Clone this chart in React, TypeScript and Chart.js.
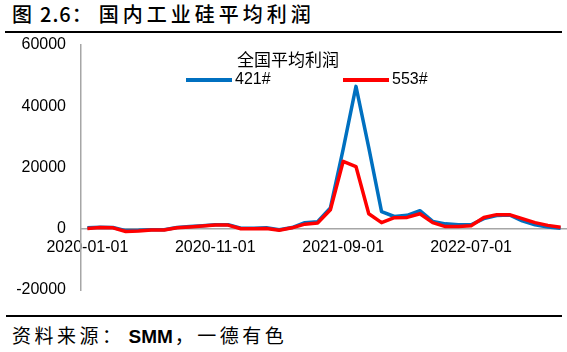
import { useEffect, useRef } from "react";
import { Chart, registerables } from "chart.js";

Chart.register(...registerables);

const categories: string[] = [
  "2020-01-01", "2020-02-01", "2020-03-01", "2020-04-01", "2020-05-01", "2020-06-01",
  "2020-07-01", "2020-08-01", "2020-09-01", "2020-10-01", "2020-11-01", "2020-12-01",
  "2021-01-01", "2021-02-01", "2021-03-01", "2021-04-01", "2021-05-01", "2021-06-01",
  "2021-07-01", "2021-08-01", "2021-09-01", "2021-10-01", "2021-11-01", "2021-12-01",
  "2022-01-01", "2022-02-01", "2022-03-01", "2022-04-01", "2022-05-01", "2022-06-01",
  "2022-07-01", "2022-08-01", "2022-09-01", "2022-10-01", "2022-11-01", "2022-12-01",
  "2023-01-01", "2023-02-01",
];

const shownXLabels: string[] = ["2020-01-01", "2020-11-01", "2021-09-01", "2022-07-01"];

const series421: number[] = [
  300, 500, 400, -600, -500, -300, -300, 400, 700, 1000, 1300, 1300,
  200, 200, 300, -300, 400, 2000, 2300, 6800, 26000, 46500, 26500, 5600,
  4000, 4400, 5900, 2400, 1600, 1300, 1300, 3300, 4300, 4500, 2600, 1300,
  600, 200,
];

const series553: number[] = [
  100, 400, 300, -900, -700, -400, -400, 300, 600, 900, 1200, 1200,
  0, 0, 100, -500, 300, 1500, 1900, 6200, 22000, 20300, 4900, 2000,
  3600, 3700, 4900, 2000, 700, 700, 1000, 3700, 4600, 4600, 3300, 2000,
  1100, 500,
];

const seriesNames: string[] = ["421#", "553#"];
const legendTitle = "全国平均利润";
const yMin = -20000;
const yMax = 60000;
const yStep = 20000;

const BLUE = "#0070C0";
const RED = "#FF0000";
const AXIS = "#A6A6A6";

const legendPlugin = {
  id: "customLegend",
  afterDraw(chart: any) {
    const ctx = chart.ctx as CanvasRenderingContext2D;
    ctx.save();
    ctx.fillStyle = "#000";
    ctx.textBaseline = "middle";
    ctx.font = "17px 'Noto Sans CJK SC'";
    ctx.textAlign = "left";
    ctx.fillText(legendTitle, 237, 24);
    const items = [
      { x: 186, color: BLUE, label: seriesNames[0] },
      { x: 343, color: RED, label: seriesNames[1] },
    ];
    ctx.font = "16px 'Liberation Sans'";
    for (const it of items) {
      ctx.strokeStyle = it.color;
      ctx.lineWidth = 4;
      ctx.beginPath();
      ctx.moveTo(it.x, 44);
      ctx.lineTo(it.x + 46, 44);
      ctx.stroke();
      ctx.fillText(it.label, it.x + 49, 44);
    }
    ctx.restore();
  },
};

function ChartView() {
  const ref = useRef<HTMLCanvasElement | null>(null);
  useEffect(() => {
    if (!ref.current) return;
    const chart = new Chart(ref.current, {
      type: "line",
      data: {
        labels: categories,
        datasets: [
          {
            label: seriesNames[0],
            data: series421,
            borderColor: BLUE,
            backgroundColor: BLUE,
            borderWidth: 3.5,
            pointRadius: 0,
            tension: 0,
            order: 1,
            borderJoinStyle: "round",
          },
          {
            label: seriesNames[1],
            data: series553,
            borderColor: RED,
            backgroundColor: RED,
            borderWidth: 3.5,
            pointRadius: 0,
            tension: 0,
            order: 0,
            borderJoinStyle: "round",
          },
        ],
      },
      options: {
        animation: false,
        responsive: false,
        maintainAspectRatio: false,
        layout: { padding: { top: 9, bottom: 10, left: 0, right: 0 } },
        plugins: {
          legend: { display: false },
          tooltip: { enabled: false },
          title: { display: false },
        },
        scales: {
          x: {
            type: "category",
            position: { y: 0 } as any,
            offset: true,
            grid: { display: false, drawTicks: false },
            border: { display: true, color: AXIS, width: 1.5 },
            afterFit: (s: any) => {
              s.height = 0;
              s.paddingLeft = 0;
              s.paddingRight = 0;
            },
            ticks: {
              autoSkip: false,
              maxRotation: 0,
              minRotation: 0,
              padding: 9,
              color: "#000",
              font: { family: "'Liberation Sans'", size: 16 },
              callback: function (this: any, _v: any, i: number) {
                const lab = categories[i];
                return shownXLabels.includes(lab) ? lab : "";
              },
            },
          },
          y: {
            min: yMin,
            max: yMax,
            grid: { display: false, drawTicks: false },
            border: { display: true, color: AXIS, width: 1.5 },
            afterFit: (s: any) => {
              s.width = 81;
              s.paddingTop = 0;
              s.paddingBottom = 0;
            },
            ticks: {
              stepSize: yStep,
              padding: 15,
              color: "#000",
              font: { family: "'Liberation Sans'", size: 16 },
              callback: (v: any) => String(v),
            },
          },
        },
      },
      plugins: [legendPlugin],
    });
    return () => chart.destroy();
  }, []);
  return <canvas ref={ref} width={567} height={264} style={{ display: "block", width: 567, height: 264 }} />;
}

export default function App() {
  return (
    <div
      style={{
        position: "absolute",
        left: 0,
        top: 0,
        width: 567,
        height: 352,
        background: "#fff",
        overflow: "hidden",
      }}
    >
      <div
        style={{
          position: "absolute",
          left: 12,
          top: 0,
          fontFamily: "'Noto Sans CJK SC'",
          fontSize: 20,
          fontWeight: 500,
          lineHeight: "28px",
          color: "#000",
          whiteSpace: "nowrap",
        }}
      >
        <span>图</span>
        <span style={{ marginLeft: 8, letterSpacing: 1 }}>2.6</span>
        <span style={{ marginRight: 7 }}>：</span>
        <span style={{ letterSpacing: 4 }}>国内工业硅平均利润</span>
      </div>
      <div style={{ position: "absolute", left: 5, top: 31, width: 557, height: 2, background: "#000" }} />
      <div style={{ position: "absolute", left: 0, top: 36 }}>
        <ChartView />
      </div>
      <div style={{ position: "absolute", left: 6, top: 315, width: 556, height: 2, background: "#000" }} />
      <div
        style={{
          position: "absolute",
          left: 12,
          top: 321,
          fontFamily: "'Noto Sans CJK SC'",
          fontSize: 19,
          letterSpacing: 3.5,
          lineHeight: "28px",
          color: "#000",
          whiteSpace: "nowrap",
        }}
      >
        资料来源：<span style={{ fontFamily: "'Liberation Sans'", fontWeight: 700, letterSpacing: 0, marginLeft: 4, marginRight: 2 }}>SMM</span>，一德有色
      </div>
    </div>
  );
}
